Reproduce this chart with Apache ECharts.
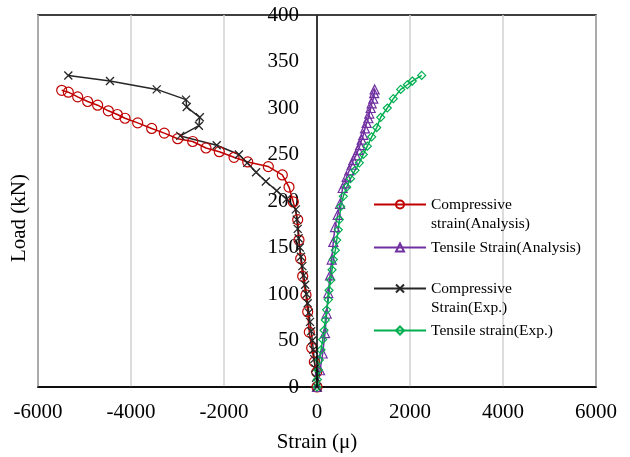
<!DOCTYPE html>
<html>
<head>
<meta charset="utf-8">
<script src="https://cdn.jsdelivr.net/npm/echarts@6/dist/echarts.min.js"></script>
<style>
  html, body { margin: 0; padding: 0; background: #fff; }
  #chart { width: 630px; height: 457px; }
</style>
</head>
<body>
<div id="chart"></div>
<script>
// [strain (μ), load (kN)] pairs
const compAnalysis = [
  [0, 0], [-7, 16], [-58, 27], [-114, 42], [-166, 59], [-200, 81], [-237, 99],
  [-308, 119], [-351, 138], [-387, 158], [-415, 180], [-510, 199], [-602, 215],
  [-746, 228], [-1047, 237], [-1490, 242], [-1785, 247], [-2101, 253], [-2387, 257],
  [-2673, 264], [-2996, 267], [-3284, 273], [-3555, 278], [-3856, 284], [-4129, 289],
  [-4294, 293], [-4488, 297], [-4717, 303], [-4932, 307], [-5147, 312], [-5348, 317],
  [-5490, 319]
];
const tensAnalysis = [
  [0, 0], [65, 18], [122, 36], [172, 58], [208, 79], [243, 101], [280, 120],
  [316, 137], [351, 156], [387, 172], [445, 185], [495, 197], [552, 214], [602, 219],
  [638, 226], [695, 233], [746, 239], [781, 244], [839, 249], [888, 255], [925, 260],
  [961, 266], [996, 271], [1032, 278], [1068, 284], [1104, 289], [1125, 294],
  [1154, 300], [1176, 305], [1211, 310], [1230, 316], [1240, 320]
];
const compExp = [
  [0, 0], [-20, 10], [-40, 20], [-60, 30], [-80, 40], [-100, 50], [-125, 60],
  [-150, 70], [-175, 80], [-200, 90], [-225, 100], [-255, 110], [-285, 120],
  [-315, 130], [-345, 140], [-370, 150], [-395, 160], [-415, 170], [-435, 180],
  [-455, 191], [-652, 202], [-867, 211], [-1100, 221], [-1310, 231], [-1500, 241],
  [-1680, 250], [-2157, 260], [-2940, 270], [-2540, 281], [-2520, 290],
  [-2802, 301], [-2817, 309], [-3447, 320], [-4452, 329], [-5348, 335]
];
const tensExp = [
  [0, 0], [7, 8], [29, 18], [50, 29], [86, 40], [122, 51], [151, 61], [179, 72],
  [208, 83], [243, 94], [258, 104], [295, 115], [323, 126], [351, 137], [394, 147],
  [423, 158], [458, 169], [480, 180], [510, 194], [566, 205], [638, 215], [720, 224],
  [817, 233], [910, 241], [996, 250], [1082, 259], [1176, 269], [1284, 279],
  [1370, 290], [1512, 300], [1641, 310], [1800, 320], [1942, 325], [2050, 329],
  [2251, 335]
];

const seriesNames = [
  "Compressive strain(Analysis)",
  "Tensile Strain(Analysis)",
  "Compressive Strain(Exp.)",
  "Tensile strain(Exp.)"
];
const legendLabels = [
  "\nCompressive\nstrain(Analysis)",
  "Tensile Strain(Analysis)",
  "\nCompressive\nStrain(Exp.)",
  "Tensile strain(Exp.)"
];

const FONT = "Liberation Serif";
const RED = "#C00000";
const PURPLE = "#7030A0";
const DARK = "#262626";
const GREEN = "#00B050";
const CROSS = "path://M0,0L10,10M10,0L0,10";

const chart = echarts.init(document.getElementById("chart"), null, { renderer: "canvas" });

const legendTops = [176, 238, 260, 321];
const legends = seriesNames.map((name, i) => ({
  data: [name],
  orient: "vertical",
  left: 373,
  top: legendTops[i],
  padding: 0,
  itemWidth: 52,
  itemHeight: 10,
  itemGap: 0,
  selectedMode: false,
  formatter: () => legendLabels[i],
  textStyle: { fontFamily: FONT, fontSize: 15.5, lineHeight: 19, color: "#000" }
}));

function lineSeries(name, data, color, symbol, size, extra) {
  return Object.assign({
    name,
    type: "line",
    data,
    symbol,
    symbolSize: size,
    showSymbol: true,
    animation: false,
    lineStyle: { color, width: 1.5 },
    itemStyle: { color: "rgba(0,0,0,0)", borderColor: color, borderWidth: 1.2 }
  }, extra || {});
}

const series = [
  lineSeries(seriesNames[0], compAnalysis, RED, "circle", 10),
  lineSeries(seriesNames[1], tensAnalysis, PURPLE, "triangle", 9),
  lineSeries(seriesNames[2], compExp, DARK, CROSS, 8, {
    itemStyle: { color: "rgba(0,0,0,0)", borderColor: DARK, borderWidth: 1.3 }
  }),
  lineSeries(seriesNames[3], tensExp, GREEN, "diamond", 8)
];
// black vertical line at zero strain (the load axis)
series[0].markLine = {
  silent: true,
  symbol: "none",
  label: { show: false },
  lineStyle: { color: "#000", width: 1.5, type: "solid" },
  data: [{ xAxis: 0 }]
};

const option = {
  backgroundColor: "#fff",
  legend: legends,
  grid: {
    left: 38, right: 34, top: 15, bottom: 70,
    outerBoundsMode: "none",
    show: true, borderColor: "#000", borderWidth: 1.5, containLabel: false
  },
  xAxis: {
    type: "value",
    min: -6000, max: 6000, interval: 2000,
    name: "Strain (μ)",
    nameLocation: "middle",
    nameGap: 45,
    nameTextStyle: { fontFamily: FONT, fontSize: 21, color: "#000" },
    axisLine: { onZero: false, lineStyle: { color: "#000", width: 1.5 } },
    axisTick: { show: false },
    axisLabel: { fontFamily: FONT, fontSize: 21, color: "#000", margin: 15, formatter: (v) => String(v) },
    splitLine: { show: true, lineStyle: { color: "#d0d0d0", width: 1.5 } }
  },
  yAxis: {
    type: "value",
    min: 0, max: 400, interval: 50,
    name: "Load (kN)",
    nameLocation: "middle",
    nameGap: 8,
    nameTextStyle: { fontFamily: FONT, fontSize: 21, color: "#000", padding: [0, 34, 0, 0] },
    axisLine: { show: false, onZero: false },
    axisTick: { show: false },
    axisLabel: { fontFamily: FONT, fontSize: 21, color: "#000", margin: -261 },
    splitLine: { show: false }
  },
  series
};

chart.setOption(option);
</script>
</body>
</html>
